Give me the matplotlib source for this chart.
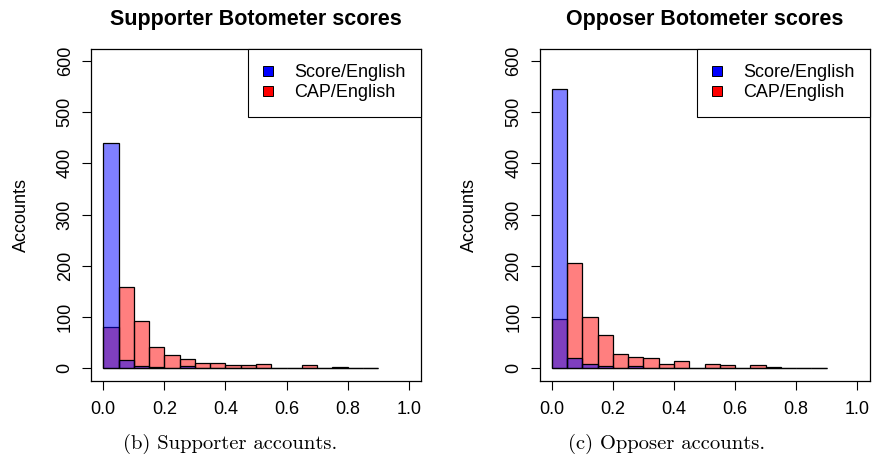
import numpy as np
import matplotlib
matplotlib.use("Agg")
import matplotlib.pyplot as plt
from matplotlib.lines import Line2D

# ---- data (counts per 0.05-wide bin, 0.00 .. 0.90) ----
bin_edges = [round(0.05 * i, 2) for i in range(19)]
supporter_score = [440, 16, 4, 2, 1, 4, 1, 1, 1, 1, 0, 0, 1, 1, 0, 1, 1, 1]
supporter_cap = [81, 158, 93, 41, 26, 18, 10, 11, 7, 6, 8, 1, 1, 6, 0, 3, 1, 1]
opposer_score = [544, 20, 8, 4, 1, 4, 1, 1, 1, 0, 0, 1, 0, 1, 1, 1, 0, 1]
opposer_cap = [96, 205, 100, 64, 28, 21, 20, 9, 14, 1, 9, 6, 1, 7, 3, 1, 0, 1]
titles = ["Supporter Botometer scores", "Opposer Botometer scores"]
captions = ["(b) Supporter accounts.", "(c) Opposer accounts."]
legend_labels = ["Score/English", "CAP/English"]
x_ticks = [0.0, 0.2, 0.4, 0.6, 0.8, 1.0]
y_ticks = [0, 100, 200, 300, 400, 500, 600]

plt.rcParams['font.family'] = ['Liberation Sans', 'DejaVu Sans']

W, H = 875, 458
fig = plt.figure(figsize=(W / 100, H / 100), dpi=100)

def px_axes(x0, y0, x1, y1):
    return [x0 / W, 1 - y1 / H, (x1 - x0) / W, (y1 - y0) / H]

panels = [
    (px_axes(91, 48.5, 421, 380.5), supporter_score, supporter_cap, 230),
    (px_axes(539.5, 48.5, 869.5, 380.5), opposer_score, opposer_cap, 667),
]

blue = (0, 0, 1, 0.5)
red = (1, 0, 0, 0.5)
lefts = bin_edges[:-1]
width = bin_edges[1] - bin_edges[0]

for i, (rect, score, cap, cap_x) in enumerate(panels):
    ax = fig.add_axes(rect)
    ax.bar(lefts, cap, width=width, align='edge', color=red,
           edgecolor='black', linewidth=0.9)
    ax.bar(lefts, score, width=width, align='edge', color=blue,
           edgecolor='black', linewidth=0.9)
    ax.set_xlim(-0.04, 1.04)
    ax.set_ylim(-24, 624)
    ax.set_xticks(x_ticks)
    ax.set_xticklabels([f"{t:.1f}" for t in x_ticks])
    ax.set_yticks(y_ticks)
    ax.set_yticklabels([str(t) for t in y_ticks], rotation=90, va='center')
    ax.tick_params(axis='both', direction='out', length=6.5, width=0.8,
                   labelsize=13, colors='black')
    ax.tick_params(axis='x', pad=8.0)
    ax.tick_params(axis='y', pad=6.0)
    for s in ax.spines.values():
        s.set_linewidth(0.9)
        s.set_color('black')
    ax.set_ylabel("Accounts", fontsize=13)
    ax.yaxis.set_label_coords(-0.185, 0.5)
    ax.set_title(titles[i], fontsize=15.5, fontweight='bold', pad=17)

    handles = [
        Line2D([], [], marker='s', linestyle='none', markersize=6.5,
               markerfacecolor='blue', markeredgecolor='black', markeredgewidth=0.7),
        Line2D([], [], marker='s', linestyle='none', markersize=6.5,
               markerfacecolor='red', markeredgecolor='black', markeredgewidth=0.7),
    ]
    leg = ax.legend(handles, legend_labels, loc='upper right',
                    bbox_to_anchor=(1, 1), borderaxespad=0, fontsize=13,
                    fancybox=False, framealpha=1, edgecolor='black',
                    borderpad=0.85, handlelength=0.51, handletextpad=1.2,
                    labelspacing=0.2)
    leg.get_frame().set_linewidth(0.8)

    fig.text(cap_x / W, 1 - 444 / H, captions[i], family='cmr10',
             fontsize=14.8, ha='center', va='center')

fig.savefig("out.png", dpi=100)
